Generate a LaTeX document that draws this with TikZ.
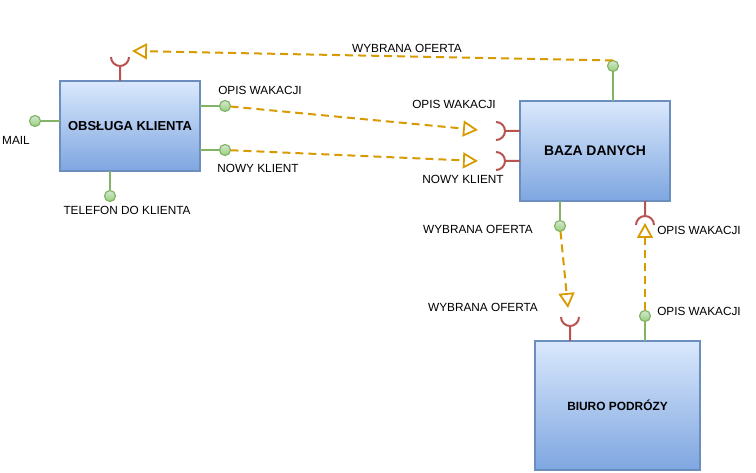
\documentclass[tikz,border=0pt]{standalone}
\usepackage{fontspec}
\setmainfont{Liberation Sans}
\usetikzlibrary{positioning}
\usetikzlibrary{arrows.meta}
\definecolor{boxtop}{HTML}{DAE8FC}
\definecolor{boxbot}{HTML}{7EA6E0}
\definecolor{boxline}{HTML}{6C8EBF}
\definecolor{lollitop}{HTML}{D5E8D4}
\definecolor{lollibot}{HTML}{97D077}
\definecolor{lolliline}{HTML}{82B366}
\definecolor{sockline}{HTML}{B85450}
\definecolor{flowline}{HTML}{D79B00}
\tikzset{
  component/.style={draw=boxline, line width=2pt, rectangle, top color=boxtop, bottom color=boxbot, font=\bfseries},
  lolli/.style={draw=lolliline, line width=1.2pt, circle, minimum size=11pt, inner sep=0, top color=lollitop, bottom color=lollibot},
  stem/.style={draw=lolliline, line width=2pt},
  socket/.style={draw=sockline, line width=2pt},
  flow/.style={draw=flowline, line width=2pt, dash pattern=on 8pt off 5pt, -{Triangle[open, length=15pt, width=16pt, line width=1.8pt]}},
  lbl/.style={font=\fontsize{11.8}{14}\selectfont, inner sep=0}
}
\begin{document}
\begin{tikzpicture}[x=1pt, y=1pt, outer sep=0]
        \useasboundingbox (0,0) rectangle (756,473);
        % components
        \node [component, minimum width=140pt, minimum height=90pt] (obsluga) at (130,347) {\fontsize{13}{15}\selectfont OBSŁUGA KLIENTA};
        \node [component, minimum width=150pt, minimum height=100pt] (baza) at (595,322) {\fontsize{13.9}{16}\selectfont BAZA DANYCH};
        \node [component, minimum width=165pt, minimum height=129pt] (biuro) at (617.5,67.5) {\fontsize{11.9}{14}\selectfont BIURO PODRÓZY};
        % provided interfaces
        \node [lolli] (mail) at (35,352) {};
        \node [lolli] (opisL) at (225,367) {};
        \node [lolli] (nowyL) at (225,323) {};
        \node [lolli] (tel) at (110,277) {};
        \node [lolli] (bazaTop) at (613,407) {};
        \node [lolli] (bazaBot) at (560,247) {};
        \node [lolli] (biuroTop) at (645,157) {};
        \draw [stem] (mail) -- (obsluga.west |- mail);
        \draw [stem] (opisL) -- (obsluga.east |- opisL);
        \draw [stem] (nowyL) -- (obsluga.east |- nowyL);
        \draw [stem] (tel) -- (obsluga.south -| tel);
        \draw [stem] (bazaTop) -- (baza.north -| bazaTop);
        \draw [stem] (bazaBot) -- (baza.south -| bazaBot);
        \draw [stem] (biuroTop) -- (biuro.north -| biuroTop);
        % required interfaces
        \coordinate (sockObs) at (120,407);
        \coordinate (sockBazaO) at (505,342);
        \coordinate (sockBazaN) at (505,312);
        \coordinate (sockBazaW) at (645,257);
        \coordinate (sockBiuro) at (570,147);
        \draw [socket] (obsluga.north -| sockObs) -- (sockObs) ++(-9,9) arc[start angle=180, end angle=360, radius=9];
        \draw [socket] (baza.west |- sockBazaO) -- (sockBazaO) ++(-9,9) arc[start angle=90, end angle=-90, radius=9];
        \draw [socket] (baza.west |- sockBazaN) -- (sockBazaN) ++(-9,9) arc[start angle=90, end angle=-90, radius=9];
        \draw [socket] (baza.south -| sockBazaW) -- (sockBazaW) ++(-9,-9) arc[start angle=180, end angle=0, radius=9];
        \draw [socket] (biuro.north -| sockBiuro) -- (sockBiuro) ++(-9,9) arc[start angle=180, end angle=360, radius=9];
        % dependencies
        \coordinate (tipObs) at (132,422);
        \coordinate (tipBazaO) at (478,343);
        \coordinate (tipBazaN) at (478,312);
        \coordinate (tipBiuro) at (568,165);
        \coordinate (tipBazaW) at (645,250);
        \draw [flow] (bazaTop.north) -- (tipObs);
        \draw [flow] (opisL) -- (tipBazaO);
        \draw [flow] (nowyL) -- (tipBazaN);
        \draw [flow] (bazaBot) -- (tipBiuro);
        \draw [flow] (biuroTop) -- (tipBazaW);
        % labels
        \node [lbl] (lblWybranaTop) at (407,425) {WYBRANA OFERTA};
        \node [lbl] (lblOpisL) at (260,383) {OPIS WAKACJI};
        \node [lbl] (lblNowyL) at (258,305) {NOWY KLIENT};
        \node [lbl] (lblMail) at (16,333) {MAIL};
        \node [lbl] (lblTel) at (127,263) {TELEFON DO KLIENTA};
        \node [lbl] (lblOpisB) at (454,369) {OPIS WAKACJI};
        \node [lbl] (lblNowyB) at (463,294) {NOWY KLIENT};
        \node [lbl] (lblWybranaB) at (478,244) {WYBRANA OFERTA};
        \node [lbl] (lblOpisBR) at (699,243) {OPIS WAKACJI};
        \node [lbl] (lblWybranaR) at (483,166) {WYBRANA OFERTA};
        \node [lbl] (lblOpisR) at (699,162) {OPIS WAKACJI};
    \end{tikzpicture}
\end{document}
